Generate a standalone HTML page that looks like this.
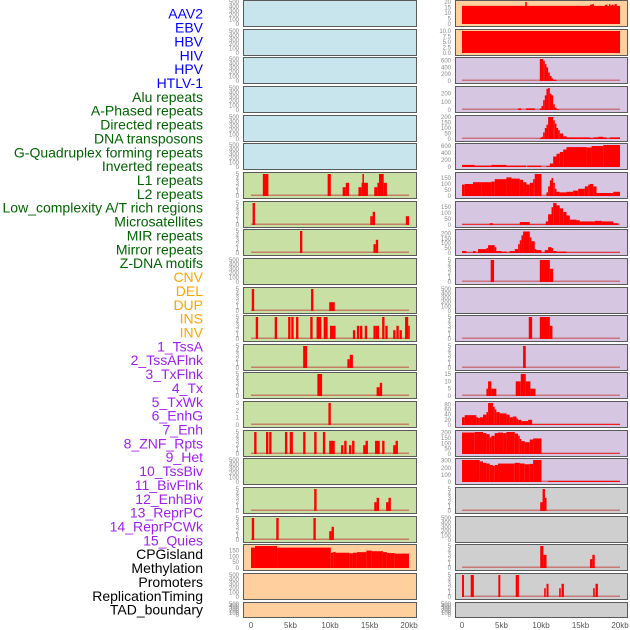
<!DOCTYPE html>
<html><head><meta charset="utf-8"><style>
html,body{margin:0;padding:0;background:#fff;}
svg{display:block;font-family:"Liberation Sans",sans-serif;}
</style></head><body>
<svg id="chart" width="630" height="630" viewBox="0 0 630 630"></svg>
<script>
const trackLabels = ["AAV2","EBV","HBV","HIV","HPV","HTLV-1","Alu repeats","A-Phased repeats","Directed repeats","DNA transposons","G-Quadruplex forming repeats","Inverted repeats","L1 repeats","L2 repeats","Low_complexity A/T rich regions","Microsatellites","MIR repeats","Mirror repeats","Z-DNA motifs","CNV","DEL","DUP","INS","INV","1_TssA","2_TssAFlnk","3_TxFlnk","4_Tx","5_TxWk","6_EnhG","7_Enh","8_ZNF_Rpts","9_Het","10_TssBiv","11_BivFlnk","12_EnhBiv","13_ReprPC","14_ReprPCWk","15_Quies","CPGisland","Methylation","Promoters","ReplicationTiming","TAD_boundary"];
const labelColors = ["#0000ff","#0000ff","#0000ff","#0000ff","#0000ff","#0000ff","#006400","#006400","#006400","#006400","#006400","#006400","#006400","#006400","#006400","#006400","#006400","#006400","#006400","#ffa500","#ffa500","#ffa500","#ffa500","#ffa500","#a020f0","#a020f0","#a020f0","#a020f0","#a020f0","#a020f0","#a020f0","#a020f0","#a020f0","#a020f0","#a020f0","#a020f0","#a020f0","#a020f0","#a020f0","#000","#000","#000","#000","#000"];
const xTickValues = [0,5,10,15,20];
const xTickLabels = ["0","5kb","10kb","15kb","20kb"];

// bars: [startKb, endKb, value]
const L6 = [[1.5,2.2,5],[9.7,10.1,5],[11.6,12.0,2],[12.0,12.4,3],[13.6,14.0,2],[14.0,14.8,3],[14.1,14.3,5],[15.6,16.0,2],[16.0,16.3,3],[16.2,16.8,5],[16.8,17.2,3]];
const L7 = [[0.2,0.5,5],[15.1,15.4,2],[15.4,15.7,3],[19.6,20,2]];
const L8 = [[6.2,6.5,5],[15.5,15.8,2],[15.8,16.1,3]];
const L10 = [[0.1,0.4,5],[7.6,7.9,5],[9.9,10.6,2]];
const L11 = [[0.6,0.9,5],[3.0,3.3,5],[4.7,5.0,5],[5.1,5.4,5],[5.7,6.0,5],[7.5,7.8,5],[8.3,8.9,5],[9.2,9.7,5],[10.0,10.7,3],[12.9,13.2,2],[13.4,13.7,3],[13.8,14.1,3],[14.4,14.7,3],[15.5,15.8,3],[15.8,16.2,3],[16.6,16.9,5],[17.0,17.3,3],[18.0,18.3,2],[18.4,18.7,3],[18.8,19.1,2],[19.5,19.9,5],[19.9,20.1,3]];
const L12 = [[6.6,7.1,5],[12.2,12.5,2],[12.5,12.9,3]];
const L13 = [[8.4,9.0,5],[15.9,16.3,2],[16.3,16.6,3]];
const L14 = [[9.8,10.1,3]];
const L15 = [[0.4,0.7,5],[1.9,2.2,5],[2.3,2.6,5],[4.3,4.6,5],[4.9,5.3,5],[6.6,6.9,5],[8.0,8.3,5],[9.1,9.4,5],[9.9,10.6,3],[11.4,11.7,2],[11.8,12.1,3],[12.4,12.7,2],[12.8,13.1,3],[14.2,14.5,2],[14.5,14.8,3],[15.7,16.3,3],[16.6,16.9,3],[18.0,18.3,2],[18.3,18.6,3]];
const L17 = [[8.0,8.3,5],[15.6,15.9,2],[15.9,16.2,3],[17.1,17.4,2],[17.4,17.7,3]];
const L18 = [[0.1,0.4,5],[3.2,3.5,5],[7.9,8.2,5],[9.9,10.2,2],[10.2,10.5,3]];
const L19 = [[0,0.5,176],[0.5,3.3,190],[3.3,10.1,176],[10.1,10.4,132],[10.4,10.7,139],[10.7,12.5,132],[12.5,12.9,127],[12.9,13.4,132],[13.4,14.6,137],[14.6,15.3,150],[15.3,16.7,145],[16.7,17.2,137],[17.2,18.2,129],[18.2,20,124]];
const R0 = [[0,20,16.5],[8.0,8.2,22],[16.2,16.4,17.5],[16.4,16.7,18],[18.1,18.4,17.5],[18.6,18.8,18],[18.9,19.2,17.5],[19.3,19.6,18]];
const R1 = [[0,20,10]];
const R2 = [[9.85,10.27,650],[10.27,10.48,600],[10.48,10.69,500],[10.69,10.9,400],[10.9,11.12,250],[11.12,11.33,150],[11.33,11.54,80],[11.54,11.96,40]];
const R3 = [[7.1,7.5,20],[8.1,9.2,20],[9.85,10.06,20],[10.06,10.27,50],[10.27,10.48,120],[10.48,10.69,180],[10.69,10.9,260],[10.9,11.12,270],[11.12,11.33,200],[11.33,11.54,180],[11.54,11.75,70],[11.75,11.96,30],[11.96,12.3,10]];
const R4 = [[9.85,10.06,10],[10.06,10.27,20],[10.27,10.48,60],[10.48,10.69,100],[10.69,10.9,130],[10.9,11.54,200],[11.54,11.75,170],[11.75,11.96,140],[11.96,12.17,100],[12.17,12.38,80],[12.38,12.81,50],[12.81,13.23,25],[13.23,16.19,15],[16.19,16.61,8],[16.61,17.24,15],[17.24,17.88,20],[17.88,18.3,15],[18.3,18.72,5],[18.72,20,15]];
const R5 = [[0,1.61,60],[1.61,3.72,40],[3.72,5.62,60],[5.62,8.1,40],[8.25,10.06,40],[10.69,11.12,30],[11.12,11.54,100],[11.54,11.96,300],[11.96,12.38,380],[12.38,12.81,430],[12.81,13.23,500],[13.23,15.77,570],[15.77,16.4,560],[16.4,17.88,600],[17.88,20,630]];
const R6 = [[0,0.34,95],[0.34,1.39,100],[1.39,2.45,115],[2.45,3.72,115],[3.72,4.14,120],[4.14,5.62,140],[5.62,6.26,155],[6.26,7.31,145],[7.31,7.73,135],[7.73,8.16,115],[8.16,8.58,95],[8.58,9.0,110],[9.0,9.21,140],[9.21,10.06,183],[10.69,10.9,30],[10.9,11.12,80],[11.12,11.33,130],[11.33,11.54,150],[11.54,11.75,110],[11.75,11.96,60],[11.96,12.38,35],[12.38,13.23,30],[13.23,14.07,35],[14.07,14.71,45],[14.71,15.55,60],[15.55,15.98,80],[15.98,16.19,95],[16.19,16.61,100],[16.61,17.03,80],[17.03,19.15,25],[19.15,20,35]];
const R7 = [[0,3.51,5],[3.51,3.93,15],[3.93,7.31,5],[7.31,8.58,25],[8.58,10.61,5],[10.61,10.9,30],[10.9,11.33,90],[11.33,11.54,150],[11.54,11.96,185],[11.96,12.38,165],[12.38,12.81,140],[12.81,13.23,110],[13.23,13.65,80],[13.65,14.5,45],[14.5,14.92,40],[14.92,16.82,30],[16.82,17.67,35],[17.67,19.15,30],[19.15,19.78,15]];
const R8 = [[0,0.55,20],[0.55,1.39,5],[1.39,1.73,20],[1.73,2.03,5],[2.03,3.09,40],[3.09,3.3,50],[3.3,4.14,80],[4.14,4.35,60],[4.35,4.99,20],[4.99,5.62,15],[5.62,6.04,5],[6.04,6.68,20],[6.68,7.1,40],[7.1,7.31,90],[7.31,7.52,130],[7.52,7.73,180],[7.73,8.58,220],[8.58,8.79,160],[8.79,9.21,120],[9.21,9.42,40],[9.42,10.06,30],[10.06,10.48,5],[10.48,10.9,30],[10.9,11.33,60],[11.33,11.54,50],[11.54,11.96,20],[11.96,13.23,15],[13.23,20,5]];
const R9 = [[3.63,4.06,5],[9.85,11.12,5],[11.12,11.54,3]];
const R11 = [[8.45,8.88,5],[9.85,11.12,5],[11.12,11.45,3]];
const R12 = [[7.73,8.07,5]];
const R13 = [[3.09,3.3,5],[3.3,3.72,10],[3.72,4.35,5],[6.8,7.44,10],[7.44,8.07,15],[8.07,8.66,10],[8.66,9.3,5]];
const R14 = [[0,0.34,30],[0.34,1.82,38],[1.82,2.03,30],[2.03,2.24,27],[2.24,2.66,30],[2.66,3.09,40],[3.09,3.3,50],[3.3,3.93,85],[3.93,4.14,70],[4.14,4.35,60],[4.35,4.78,50],[4.78,5.62,45],[5.62,6.04,40],[6.04,6.47,30],[6.47,6.89,33],[6.89,7.1,25],[7.1,7.52,20],[7.52,8.37,15],[8.37,8.88,20],[8.88,20,3]];
const R15 = [[0,1.61,200],[1.61,2.66,205],[2.66,3.09,195],[3.09,3.51,185],[3.51,3.72,155],[3.72,4.14,170],[4.14,4.56,195],[4.56,5.2,200],[5.2,5.62,195],[5.62,6.68,205],[6.68,7.1,190],[7.1,7.31,170],[7.31,7.52,140],[7.52,7.95,120],[7.95,8.58,110],[8.58,9.0,135],[9.0,10.06,145],[10.06,20,5]];
const R16 = [[0,2.24,310],[2.24,2.66,290],[2.66,3.09,270],[3.09,3.51,260],[3.51,3.93,240],[3.93,4.14,225],[4.14,4.56,240],[4.56,6.68,260],[6.68,7.31,270],[7.31,7.95,260],[7.95,8.58,250],[8.58,9.0,255],[9.0,10.06,310],[10.9,20,15]];
const R17 = [[9.9,10.2,2],[10.2,10.5,5],[10.5,10.7,3]];
const R19 = [[9.9,10.3,5],[10.3,10.7,3],[16.2,16.5,2],[16.5,16.8,3]];
const R20 = [[0,0.25,5],[1.1,1.5,5],[4.6,4.85,5],[6.8,7.2,5],[10.4,10.6,2],[10.7,10.95,3],[12.3,12.5,2],[12.6,12.9,3],[16.6,16.8,2],[16.9,17.2,3]];

const T5 = [0,1,2,3,4,5], T500 = [0,100,200,300,400,500];
const BLUE="#c8e4ec", GREEN="#c8e0a4", PEACH="#ffd09e", LAV="#d6c6e2", GRAY="#cfcfcf";
// [bars, yMax, ticks, background]
const leftPanels = [
 [null,500,T500,BLUE],[null,500,T500,BLUE],[null,500,T500,BLUE],[null,500,T500,BLUE],[null,500,T500,BLUE],[null,500,T500,BLUE],
 [L6,5,T5,GREEN],[L7,5,T5,GREEN],[L8,5,T5,GREEN],[null,500,T500,GREEN],[L10,5,T5,GREEN],[L11,5,T5,GREEN],
 [L12,5,T5,GREEN],[L13,5,T5,GREEN],[L14,3,[0,1,2,3],GREEN],[L15,5,T5,GREEN],[null,500,T500,GREEN],[L17,5,T5,GREEN],
 [L18,5,T5,GREEN],[L19,190,[0,50,100,150],PEACH],[null,500,T500,PEACH],[null,500,T500,PEACH]];
const rightPanels = [
 [R0,20,[0,5,10,15,20],PEACH],[R1,10,["0.0","2.5","5.0","7.5","10.0"],PEACH],[R2,650,[0,200,400,600],LAV],[R3,270,[0,100,200],LAV],
 [R4,200,[0,50,100,150,200],LAV],[R5,630,[0,200,400,600],LAV],[R6,183,[0,50,100,150],LAV],[R7,185,[0,50,100,150],LAV],
 [R8,225,[0,50,100,150,200],LAV],[R9,5,T5,LAV],[null,500,T500,LAV],[R11,5,T5,LAV],[R12,5,T5,LAV],[R13,15,[0,5,10,15],LAV],
 [R14,85,[0,20,40,60,80],LAV],[R15,205,[0,50,100,150,200],LAV],[R16,310,[0,100,200,300],LAV],[R17,5,T5,GRAY],
 [null,500,T500,GRAY],[R19,5,T5,GRAY],[R20,5,T5,GRAY],[null,500,T500,GRAY]];

const NS="http://www.w3.org/2000/svg";
const svg=document.getElementById('chart');
function mk(tag,attrs,parent){const e=document.createElementNS(NS,tag);for(const k in attrs)e.setAttribute(k,attrs[k]);(parent||svg).appendChild(e);return e;}

// labels
trackLabels.forEach((t,i)=>{
  const e=mk('text',{x:203,y:15+i*13.86,'text-anchor':'end','dominant-baseline':'middle','font-size':14,fill:labelColors[i]});
  e.textContent=t;
  
  
});

function drawColumn(panels,px,pw,x0,x1,tickX,colName){
  const xs=kb=>x0+(kb/20)*(x1-x0);
  panels.forEach((p,i)=>{
    const [bars,ymax,ticks,bg]=p;
    const top=Math.round(i*28.65);
    const h=(i===21)?15:26;
    const g=mk('g',{});
    
    
    const r=mk('rect',{x:px+0.5,y:top+0.5,width:pw,height:h,fill:bg,stroke:'#5a5a5a','stroke-width':1},g);
    
    
    const yb=top+h-2, yt=top+2;
    const ys=v=>yb-(Math.min(v,ymax)/ymax)*(yb-yt);
    ticks.forEach((tv,k)=>{
      const val=parseFloat(tv);
      const t=mk('text',{x:tickX,y:ys(val)+2,'text-anchor':'end','font-size':6,fill:'#888'},g);
      t.textContent=String(tv);
      
      
    });
    if(bars){
      const bl=mk('rect',{x:xs(0),y:yb-1.5,width:xs(20)-xs(0),height:1.5,fill:'#c04040',opacity:0.6},g);
      
      
      bars.forEach(b=>{
        const x=xs(b[0]), w=Math.max(1.2,xs(b[1])-xs(b[0])), y=ys(b[2]);
        const br=mk('rect',{x:x,y:y,width:w,height:yb-y,fill:'#ff0000'},g);
        
        
      });
    }
  });
  xTickValues.forEach((v,k)=>{
    const t=mk('text',{x:xs(v),y:628,'text-anchor':'middle','font-size':8,fill:'#555'});
    t.textContent=xTickLabels[k];
    
    
  });
}
drawColumn(leftPanels,243,173,251,409,239,'left');
drawColumn(rightPanels,455,172,462,620,451,'right');
</script>
</body></html>
